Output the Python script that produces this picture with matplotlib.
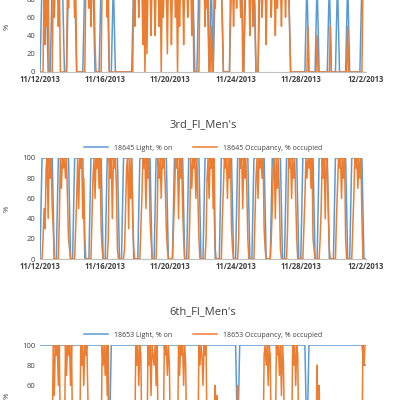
import numpy as np
import pandas as pd
import matplotlib
matplotlib.use('Agg')
import matplotlib.pyplot as plt

# readings per day (11/12 .. 12/1); digit = tens of %, X = 100
# light strings: 3-hour steps, occupancy strings: 90-minute steps
start = '2013-11-12'
tick_labels = ['11/12/2013', '11/16/2013', '11/20/2013', '11/24/2013', '11/28/2013', '12/2/2013']

top_light = ['0XXX00XX', 'XXXX00XX', 'XX0000XX', 'XXX000XX', 'XX00X000', '000000XX',
             'XXXXXXXX', 'XXXXXXXX', 'XXXXXXXX', 'XXXX00XX', 'XXX0X0XX', 'XX0000XX',
             'XXXX0XXX', 'XX00XXXX', 'XXXXXXXX', 'XXX00000', '000X0000', 'X00000X0',
             '00X0000X', '000000XX']
top_occ = ['0000X3X5X0000X6X', '9X5X0000000X7X9X', '8X6X000000000X9X', '7X5X9X3000000X8X',
           '9X6X000000000000', '000000000000X5X9', 'X6X8X3X0X2X9X4X8', 'X4X9X5X0X6X8X2X9',
           'X3X8X6X0X5X9X3X8', 'X6X9X4X000000X8X', '9X5X7X00500X7X9X', 'X8X60000000X9X5X',
           'X7X9X6X00X8X9X4X', 'X5X7000X9X6X9X3X', 'X8X6X9X4X7X9X5X8', 'X6X9X50000000000',
           '0000000500000000', '4000000000000500', '0000000000000050', '0000000000000X8X']

mid_light = ['0XXXXXX0', '0XXXXXX0', '0XXXXX00', '0XXXXXX0', '0XXXXXX0', '0XXXXX00',
             '0XXXXXX0', '0XXXXXX0', '00XXXXX0', '0XXXXXX0', '0XXXXX00', '0XXXXXX0',
             '0XXXXXX0', '0XXXXXX0', '00XXXXX0', '0XXXXXX0', '0XXXXXX0', '0XXXXX00',
             '0XXXXXX0', '0XXXXXX0']
mid_occ = ['0002539X4X8X5300', '0004X7X9X8X62100', '00036X5X9X482000', '00048X6X9X7X3100',
           '0002X8X4X9X71000', '000159X3X6X41000', '00036X9X5X8X4200', '0004X8X6X9X73100',
           '00036X9X4X8X5200', '0004X7X9X6X62000', '00028X6X9X5X1000', '00047X9X6X8X3100',
           '0002X9X5X8X72000', '00048X6X9X8X3100', '000259X4X7X61000', '0003X9X6X8X62000',
           '00036X8X9X7X2100', '00025X8X4X951000', '00047X9X6X8X2000', '00036X9X7X8X4000']

bot_light = ['XXXXXXXX', 'XXXXXXXX', 'XXXXXXXX', 'XXXXXXXX', 'XX0XXXXX', 'XXXXXXXX',
             'XXXXXXXX', 'XXXXXXXX', 'XXXXXXXX', 'XXXXXXXX', 'XXXXXXXX', 'XXXXXXXX',
             'X0XXXXXX', 'XXXXXXXX', 'XXXXXXXX', 'XXXXXXXX', 'XXX0XXXX', 'XXXXXXXX',
             'XXXXXXXX', 'XXXXXXX8']
bot_occ = ['0000000000000X5X', '9X6X00000X7X9X6X', '00000000X8X6X9X5', '0000000000000X8X',
           '7X5X000000000000', '00000000000000X8', 'X6X9000000X8X5X9', '8X6X000000X9X7X8',
           '00000000X7X9X6X8', '000000000000X8X9', '6X9X000000006050', '0000000000000000',
           '0060000000000000', '0000000000009X8X', '6X900000X9X7X5X8', '00000000X8X6X900',
           '0000000000000000', '8060000000000000', '0000000000000000', '0000000000000X8X']

charts = [
    ('', '', top_light, top_occ),
    ("3rd_Fl_Men's", '18645', mid_light, mid_occ),
    ("6th_Fl_Men's", '18653', bot_light, bot_occ),
]
# axes boxes in figure fraction: left, bottom, width, height
boxes = [(0.1, 0.82, 0.815, 0.228), (0.1, 0.3525, 0.815, 0.2525), (0.1, -0.115, 0.815, 0.2525)]


def decode(days):
    vals = []
    for d in days:
        for c in d:
            vals.append(100 if c == 'X' else int(c) * 10)
    vals.append(vals[-1])
    step = 24 * 60 // len(days[0])
    t = pd.date_range(start, periods=len(vals), freq=f'{step}min')
    return t, np.array(vals)


plt.rcParams['font.family'] = ['Open Sans', 'DejaVu Sans']
fig = plt.figure(figsize=(4, 4), dpi=100)

for (title, sensor, light, occ), box in zip(charts, boxes):
    t_l, light_v = decode(light)
    t_o, occ_v = decode(occ)
    ax = fig.add_axes(box)
    ax.plot(t_l, light_v, color='#5B9BD5', lw=1.1, label=f'{sensor} Light, % on')
    ax.plot(t_o, occ_v, color='#ED7D31', lw=1.1, label=f'{sensor} Occupancy, % occupied')
    ticks = pd.date_range(start, periods=6, freq='4D')
    ax.set_xticks(ticks)
    ax.set_xticklabels(tick_labels, fontsize=5.5, fontweight='bold', color='#404040')
    ax.set_xlim(ticks[0], ticks[-1])
    ax.set_ylim(0, 100)
    ax.set_yticks(range(0, 101, 20))
    ax.tick_params(axis='y', labelsize=5.5, length=0, colors='#404040')
    ax.tick_params(axis='x', length=0, pad=2)
    ax.set_ylabel('%', fontsize=5.5, color='#404040', labelpad=8)
    for s in ['top', 'right', 'left']:
        ax.spines[s].set_visible(False)
    ax.spines['bottom'].set_color('#BFBFBF')
    if title:
        ax.set_title(title, fontsize=8, color='#404040', pad=22)
        ax.legend(loc='lower center', bbox_to_anchor=(0.5, 1.0), ncol=2, frameon=False,
                  fontsize=5, handlelength=3.5, columnspacing=3, labelcolor='#404040')

fig.savefig('out.png', dpi=100)
